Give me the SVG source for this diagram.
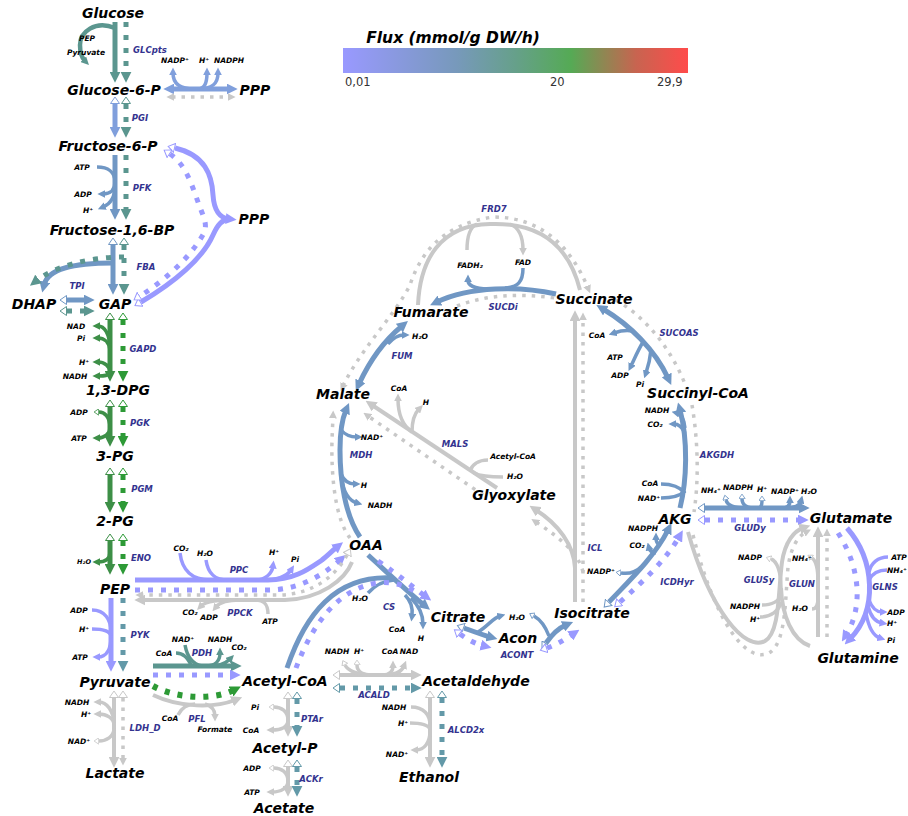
<svg xmlns="http://www.w3.org/2000/svg" width="908" height="816" viewBox="0 0 908 816">
<defs>
<linearGradient id="flux" x1="0" y1="0" x2="1" y2="0">
<stop offset="0" stop-color="#9999ff"/><stop offset="0.33" stop-color="#7799bb"/><stop offset="0.5" stop-color="#66a08a"/><stop offset="0.66" stop-color="#55aa55"/><stop offset="0.85" stop-color="#c86450"/><stop offset="1" stop-color="#ff4b4b"/>
</linearGradient>
<marker id="A-lav" viewBox="0 0 10 10" refX="3" refY="5" markerWidth="11" markerHeight="11" markerUnits="userSpaceOnUse" orient="auto-start-reverse"><path d="M0,0L10,5L0,10z" fill="#9999ff"/></marker>
<marker id="A-sb" viewBox="0 0 10 10" refX="3" refY="5" markerWidth="11" markerHeight="11" markerUnits="userSpaceOnUse" orient="auto-start-reverse"><path d="M0,0L10,5L0,10z" fill="#809fdc"/></marker>
<marker id="A-st" viewBox="0 0 10 10" refX="3" refY="5" markerWidth="11" markerHeight="11" markerUnits="userSpaceOnUse" orient="auto-start-reverse"><path d="M0,0L10,5L0,10z" fill="#7097c4"/></marker>
<marker id="A-te" viewBox="0 0 10 10" refX="3" refY="5" markerWidth="11" markerHeight="11" markerUnits="userSpaceOnUse" orient="auto-start-reverse"><path d="M0,0L10,5L0,10z" fill="#5b968f"/></marker>
<marker id="A-td" viewBox="0 0 10 10" refX="3" refY="5" markerWidth="11" markerHeight="11" markerUnits="userSpaceOnUse" orient="auto-start-reverse"><path d="M0,0L10,5L0,10z" fill="#6399a8"/></marker>
<marker id="A-gr" viewBox="0 0 10 10" refX="3" refY="5" markerWidth="11" markerHeight="11" markerUnits="userSpaceOnUse" orient="auto-start-reverse"><path d="M0,0L10,5L0,10z" fill="#3d8f47"/></marker>
<marker id="A-gd" viewBox="0 0 10 10" refX="3" refY="5" markerWidth="11" markerHeight="11" markerUnits="userSpaceOnUse" orient="auto-start-reverse"><path d="M0,0L10,5L0,10z" fill="#2d9a36"/></marker>
<marker id="A-gry" viewBox="0 0 10 10" refX="3" refY="5" markerWidth="11" markerHeight="11" markerUnits="userSpaceOnUse" orient="auto-start-reverse"><path d="M0,0L10,5L0,10z" fill="#c8c8c8"/></marker>
<marker id="a-lav" viewBox="0 0 10 10" refX="3" refY="5" markerWidth="8" markerHeight="8" markerUnits="userSpaceOnUse" orient="auto-start-reverse"><path d="M0,0L10,5L0,10z" fill="#9999ff"/></marker>
<marker id="a-sb" viewBox="0 0 10 10" refX="3" refY="5" markerWidth="8" markerHeight="8" markerUnits="userSpaceOnUse" orient="auto-start-reverse"><path d="M0,0L10,5L0,10z" fill="#809fdc"/></marker>
<marker id="a-st" viewBox="0 0 10 10" refX="3" refY="5" markerWidth="8" markerHeight="8" markerUnits="userSpaceOnUse" orient="auto-start-reverse"><path d="M0,0L10,5L0,10z" fill="#7097c4"/></marker>
<marker id="a-te" viewBox="0 0 10 10" refX="3" refY="5" markerWidth="8" markerHeight="8" markerUnits="userSpaceOnUse" orient="auto-start-reverse"><path d="M0,0L10,5L0,10z" fill="#5b968f"/></marker>
<marker id="a-gr" viewBox="0 0 10 10" refX="3" refY="5" markerWidth="8" markerHeight="8" markerUnits="userSpaceOnUse" orient="auto-start-reverse"><path d="M0,0L10,5L0,10z" fill="#3d8f47"/></marker>
<marker id="a-gry" viewBox="0 0 10 10" refX="3" refY="5" markerWidth="8" markerHeight="8" markerUnits="userSpaceOnUse" orient="auto-start-reverse"><path d="M0,0L10,5L0,10z" fill="#c8c8c8"/></marker>
<marker id="g-s" viewBox="0 0 10 10" refX="3" refY="5" markerWidth="8" markerHeight="8" markerUnits="userSpaceOnUse" orient="auto-start-reverse"><path d="M0,0L10,5L0,10z" fill="#c8c8c8"/></marker>
<marker id="H-lav" viewBox="0 0 10 10" refX="0" refY="5" markerWidth="10" markerHeight="10" markerUnits="userSpaceOnUse" orient="auto-start-reverse"><path d="M0.5,0.5L7,5L0.5,9.5z" fill="#fff" stroke="#9999ff" stroke-width="1"/></marker>
<marker id="H-sb" viewBox="0 0 10 10" refX="0" refY="5" markerWidth="10" markerHeight="10" markerUnits="userSpaceOnUse" orient="auto-start-reverse"><path d="M0.5,0.5L7,5L0.5,9.5z" fill="#fff" stroke="#809fdc" stroke-width="1"/></marker>
<marker id="H-st" viewBox="0 0 10 10" refX="0" refY="5" markerWidth="10" markerHeight="10" markerUnits="userSpaceOnUse" orient="auto-start-reverse"><path d="M0.5,0.5L7,5L0.5,9.5z" fill="#fff" stroke="#7097c4" stroke-width="1"/></marker>
<marker id="H-te" viewBox="0 0 10 10" refX="0" refY="5" markerWidth="10" markerHeight="10" markerUnits="userSpaceOnUse" orient="auto-start-reverse"><path d="M0.5,0.5L7,5L0.5,9.5z" fill="#fff" stroke="#5b968f" stroke-width="1"/></marker>
<marker id="H-td" viewBox="0 0 10 10" refX="0" refY="5" markerWidth="10" markerHeight="10" markerUnits="userSpaceOnUse" orient="auto-start-reverse"><path d="M0.5,0.5L7,5L0.5,9.5z" fill="#fff" stroke="#6399a8" stroke-width="1"/></marker>
<marker id="H-gr" viewBox="0 0 10 10" refX="0" refY="5" markerWidth="10" markerHeight="10" markerUnits="userSpaceOnUse" orient="auto-start-reverse"><path d="M0.5,0.5L7,5L0.5,9.5z" fill="#fff" stroke="#3d8f47" stroke-width="1"/></marker>
<marker id="H-gd" viewBox="0 0 10 10" refX="0" refY="5" markerWidth="10" markerHeight="10" markerUnits="userSpaceOnUse" orient="auto-start-reverse"><path d="M0.5,0.5L7,5L0.5,9.5z" fill="#fff" stroke="#2d9a36" stroke-width="1"/></marker>
<marker id="H-gry" viewBox="0 0 10 10" refX="0" refY="5" markerWidth="10" markerHeight="10" markerUnits="userSpaceOnUse" orient="auto-start-reverse"><path d="M0.5,0.5L7,5L0.5,9.5z" fill="#fff" stroke="#c8c8c8" stroke-width="1"/></marker>
<marker id="h-gr" viewBox="0 0 10 10" refX="0" refY="5" markerWidth="7" markerHeight="7" markerUnits="userSpaceOnUse" orient="auto-start-reverse"><path d="M0.5,0.5L7,5L0.5,9.5z" fill="#fff" stroke="#3d8f47" stroke-width="1.2"/></marker>
<marker id="h-gry" viewBox="0 0 10 10" refX="0" refY="5" markerWidth="7" markerHeight="7" markerUnits="userSpaceOnUse" orient="auto-start-reverse"><path d="M0.5,0.5L7,5L0.5,9.5z" fill="#fff" stroke="#c8c8c8" stroke-width="1.2"/></marker>
<marker id="h-st" viewBox="0 0 10 10" refX="0" refY="5" markerWidth="7" markerHeight="7" markerUnits="userSpaceOnUse" orient="auto-start-reverse"><path d="M0.5,0.5L7,5L0.5,9.5z" fill="#fff" stroke="#7097c4" stroke-width="1.2"/></marker>
</defs>
<style>
.ln,.dt,.cf,.lg,.dg,.cg{fill:none}
.ln{stroke-width:5}
.dt{stroke-width:5;stroke-dasharray:5 8}
.cf{stroke-width:3.5}
.lg{stroke:#c8c8c8;stroke-width:4}
.cg{stroke:#c8c8c8;stroke-width:3.5}
.dg{stroke:#c8c8c8;stroke-width:3.5;stroke-dasharray:3.5 6}
.lav{stroke:#9999ff}.sb{stroke:#809fdc}.st{stroke:#7097c4}.te{stroke:#5b968f}.td{stroke:#6399a8}.gr{stroke:#3d8f47}.gd{stroke:#2d9a36}
text{font-family:"DejaVu Sans",Verdana,sans-serif;font-weight:bold;font-style:italic;text-anchor:middle;fill:#000}
.m{font-size:14px}
.c{font-size:7.5px}
.r{font-size:8.5px;fill:#33338f}
.lt{font-size:15.5px}
.ln2{font-size:11.5px;font-weight:normal;font-style:normal;text-anchor:start;fill:#333}
</style>
<rect width="908" height="816" fill="#fff"/>

<g id="connectors">
<!-- GLCpts -->
<path class="ln te" d="M115,22V75" marker-end="url(#A-te)"/>
<path class="dt te" d="M126,22V75" marker-end="url(#A-te)"/>
<path class="cf te" style="stroke-width:4.5" d="M115,28C95,20 80,32 80,45C80,53 82,58 85,61" marker-end="url(#a-te)"/>
<!-- G6PDH / PPP top -->
<path class="ln sb" d="M171,89H230" marker-start="url(#A-sb)" marker-end="url(#A-sb)"/>
<path class="cf sb" d="M194,89C180,89 173,84 173,73" marker-end="url(#a-sb)"/>
<path class="cf sb" d="M198,89C204,89 207,84 207,73" marker-end="url(#a-sb)"/>
<path class="cf sb" d="M198,89C212,89 218,84 218,73" marker-end="url(#a-sb)"/>
<path class="dg" d="M172,97H230" marker-start="url(#g-s)" marker-end="url(#g-s)"/>
<!-- PGI -->
<path class="ln sb" d="M115,104V130" marker-start="url(#H-sb)" marker-end="url(#A-sb)"/>
<path class="dt te" d="M126,104V130" marker-start="url(#H-te)" marker-end="url(#A-te)"/>
<!-- PFK -->
<path class="ln st" d="M115,155V212" marker-end="url(#A-st)"/>
<path class="dt te" d="M126,155V212" marker-end="url(#A-te)"/>
<path class="cf st" d="M97,167C108,167 115,172 115,182"/>
<path class="cf st" d="M115,182C115,190 110,194 103,194" marker-end="url(#a-st)"/>
<path class="cf st" d="M115,186C115,198 110,204 103,207" marker-end="url(#a-st)"/>
<!-- FBA / TPI -->
<path class="ln st" d="M113,245V287" marker-start="url(#H-st)" marker-end="url(#A-st)"/>
<path class="dt te" d="M124,245V287" marker-start="url(#H-te)" marker-end="url(#A-te)"/>
<path class="ln st" d="M113,263C75,263 48,268 44,285" marker-end="url(#A-st)"/>
<path class="dt te" d="M124,257C90,257 55,266 36,281" marker-end="url(#A-te)"/>
<path class="ln st" d="M67,300H87" marker-start="url(#H-st)" marker-end="url(#A-st)"/>
<path class="dt te" d="M67,311H87" marker-start="url(#H-te)" marker-end="url(#A-te)"/>
<!-- F6P / GAP to PPP -->
<path class="ln lav" d="M175,148C205,155 212,175 213,195C214,210 220,218 229,219" marker-start="url(#H-lav)" marker-end="url(#A-lav)"/>
<path class="ln lav" d="M141,302C175,282 203,258 213,235C218,224 222,220 229,219" marker-start="url(#H-lav)"/>
<path class="dt lav" d="M170,154C188,166 193,190 201,210C205,220 207,226 204,233C190,258 165,280 140,296" marker-start="url(#H-lav)" marker-end="url(#H-lav)"/>
<!-- GAPD -->
<path class="ln gr" d="M110,320V374" marker-start="url(#H-gr)" marker-end="url(#A-gr)"/>
<path class="dt gd" d="M123,320V374" marker-start="url(#H-gd)" marker-end="url(#A-gd)"/>
<path class="cf gr" d="M110,350C110,333 104,326 98,326" marker-end="url(#a-gr)"/>
<path class="cf gr" d="M110,350C109,342 104,338 98,338" marker-end="url(#a-gr)"/>
<path class="cf gr" d="M110,372C110,366 104,362 98,362" marker-end="url(#a-gr)"/>
<path class="cf gr" d="M110,372C109,376 104,376 98,376" marker-end="url(#a-gr)"/>
<!-- PGK -->
<path class="ln gr" d="M110,407V439" marker-start="url(#H-gr)" marker-end="url(#A-gr)"/>
<path class="dt gd" d="M123,407V439" marker-start="url(#H-gd)" marker-end="url(#A-gd)"/>
<path class="cf gr" d="M110,428C110,416 104,412 99,412" marker-end="url(#h-gr)"/>
<path class="cf gr" d="M110,428C110,434 104,438 98,438" marker-end="url(#a-gr)"/>
<!-- PGM -->
<path class="ln gr" d="M110,475V505" marker-start="url(#H-gr)" marker-end="url(#A-gr)"/>
<path class="dt gd" d="M123,475V505" marker-start="url(#H-gd)" marker-end="url(#A-gd)"/>
<!-- ENO -->
<path class="ln gr" d="M110,541V567" marker-start="url(#H-gr)" marker-end="url(#A-gr)"/>
<path class="dt gd" d="M123,541V567" marker-start="url(#H-gd)" marker-end="url(#A-gd)"/>
<path class="cf gr" d="M110,552C110,560 104,562 98,562" marker-end="url(#a-gr)"/>
<!-- PYK -->
<path class="ln lav" d="M111,598V664" marker-end="url(#A-lav)"/>
<path class="dt td" d="M123,598V664" marker-end="url(#A-td)"/>
<path class="cf lav" d="M92,610C105,610 111,620 111,632"/>
<path class="cf lav" d="M92,629C103,629 110,631 111,636"/>
<path class="cf lav" d="M111,636C111,650 106,657 98,657" marker-end="url(#a-lav)"/>
<!-- LDH_D -->
<path class="lg" d="M114,698V760" marker-start="url(#H-gry)" marker-end="url(#A-gry)"/>
<path class="dg" d="M123,698V760" marker-start="url(#H-gry)" marker-end="url(#g-s)"/>
<path class="cg" d="M114,725C114,710 106,702 99,702" marker-end="url(#a-gry)"/>
<path class="cg" d="M114,725C114,718 106,714 99,714" marker-end="url(#a-gry)"/>
<path class="cg" d="M114,728C114,737 106,741 99,741" marker-end="url(#h-gry)"/>
<!-- PPC -->
<path class="ln lav" d="M135,580H268C295,580 310,568 322,560C328,555 332,551 337,547" marker-end="url(#A-lav)"/>
<path class="cf lav" d="M180,553C182,570 192,580 210,580"/>
<path class="cf lav" d="M206,560C208,574 215,580 228,580"/>
<path class="cf lav" d="M255,580C265,580 272,574 273,566" marker-end="url(#a-lav)"/>
<path class="cf lav" d="M262,580C278,580 287,576 291,570" marker-end="url(#a-lav)"/>
<path class="dt lav" d="M135,590H268C298,590 322,576 340,560" marker-end="url(#A-lav)"/>
<!-- PPCK -->
<path class="lg" d="M352,562C345,580 320,599 285,600H142" marker-end="url(#A-gry)"/>
<path class="dg" d="M347,555C337,574 315,594 280,595H141" marker-start="url(#H-gry)" marker-end="url(#g-s)"/>
<path class="cg" d="M240,600C218,600 206,601 201,606" marker-end="url(#a-gry)"/>
<path class="cg" d="M240,600C228,600 220,602 216,607" marker-end="url(#a-gry)"/>
<path class="cg" d="M268,614C268,605 265,600 255,600"/>
<!-- PDH -->
<path class="ln te" d="M153,666H234" marker-end="url(#A-te)"/>
<path class="cf te" d="M176,653C185,653 188,660 192,666"/>
<path class="cf te" d="M185,645C187,656 192,664 202,666"/>
<path class="cf te" d="M206,666C216,666 220,660 220,653" marker-end="url(#a-te)"/>
<path class="cf te" d="M210,666C222,666 227,662 230,659" marker-end="url(#a-te)"/>
<path class="dt lav" d="M153,675H233" marker-end="url(#A-lav)"/>
<!-- PFL -->
<path class="dt gd" style="stroke-width:6" d="M153,686C175,698 212,701 234,690" marker-end="url(#A-gd)"/>
<path class="lg" d="M153,695C180,708 215,708 235,700" marker-end="url(#A-gry)"/>
<path class="cg" d="M178,715C182,707 188,704 195,704"/>
<path class="cg" d="M205,704C212,706 215,711 215,716" marker-end="url(#a-gry)"/>
<!-- PTAr -->
<path class="lg" d="M288,699V729" marker-start="url(#H-gry)" marker-end="url(#A-gry)"/>
<path class="dt td" d="M297,699V729" marker-start="url(#H-td)" marker-end="url(#A-td)"/>
<path class="cg" d="M288,720C288,711 281,707 274,707" marker-end="url(#h-gry)"/>
<path class="cg" d="M288,720C288,727 281,730 272,730" marker-end="url(#a-gry)"/>
<!-- ACKr -->
<path class="lg" d="M288,767V789" marker-start="url(#H-gry)" marker-end="url(#A-gry)"/>
<path class="dt td" d="M297,767V789" marker-start="url(#H-td)" marker-end="url(#A-td)"/>
<path class="cg" d="M288,781C288,772 281,768 274,768" marker-end="url(#h-gry)"/>
<path class="cg" d="M288,781C288,788 281,792 272,792" marker-end="url(#a-gry)"/>
<!-- ACALD -->
<path class="lg" d="M340,675H414" marker-start="url(#H-gry)" marker-end="url(#A-gry)"/>
<path class="dt td" d="M340,688H414" marker-start="url(#H-td)" marker-end="url(#A-td)"/>
<path class="cg" d="M372,675C358,675 348,671 345,665" marker-end="url(#h-gry)"/>
<path class="cg" d="M372,675C362,675 357,671 357,665" marker-end="url(#h-gry)"/>
<path class="cg" d="M383,675C390,675 393,671 393,666" marker-end="url(#a-gry)"/>
<path class="cg" d="M383,675C396,675 402,671 404,666" marker-end="url(#a-gry)"/>
<!-- ALCD2x -->
<path class="lg" d="M430,698V760" marker-start="url(#H-gry)" marker-end="url(#A-gry)"/>
<path class="dt td" d="M442,698V760" marker-start="url(#H-td)" marker-end="url(#A-td)"/>
<path class="cg" d="M411,707C424,707 430,715 430,725"/>
<path class="cg" d="M410,723C420,723 428,725 430,729"/>
<path class="cg" d="M430,731C430,743 424,750 416,750" marker-end="url(#a-gry)"/>
<!-- CS -->
<path class="ln st" d="M368,555C390,575 408,592 424,605" marker-end="url(#A-st)"/>
<path class="ln st" d="M287,668C305,615 335,575 392,578"/>
<path class="cf st" d="M368,593C375,585 383,581 394,580"/>
<path class="cf st" d="M405,595C411,601 413,608 412,616" marker-end="url(#a-st)"/>
<path class="cf st" d="M411,598C419,606 423,614 423,624" marker-end="url(#a-st)"/>
<path class="dt lav" d="M378,561C400,576 414,588 425,596" marker-end="url(#A-lav)"/>
<path class="dt lav" d="M296,668C312,625 338,588 378,583C395,581 408,587 418,593"/>
<!-- ACONT -->
<path class="ln st" d="M464,628C475,632 483,635 490,637" marker-start="url(#H-st)" marker-end="url(#A-st)"/>
<path class="cf st" d="M478,632C488,626 493,618 500,616" marker-end="url(#a-st)"/>
<path class="ln st" d="M546,643C553,633 559,628 566,625" marker-start="url(#H-st)" marker-end="url(#A-st)"/>
<path class="cf st" d="M534,616C541,620 546,628 549,636" marker-start="url(#h-st)"/>
<path class="dt lav" d="M460,634C468,640 476,644 484,646" marker-start="url(#H-lav)" marker-end="url(#A-lav)"/>
<path class="dt lav" d="M547,648C556,645 564,640 573,634" marker-start="url(#H-lav)" marker-end="url(#A-lav)"/>
<!-- ICL -->
<path class="lg" d="M575,602V318" marker-end="url(#A-gry)"/>
<path class="dg" d="M583,602V318" marker-end="url(#g-s)"/>
<path class="lg" d="M575,568C574,545 558,524 536,510" marker-end="url(#A-gry)"/>
<path class="dg" d="M583,572C578,552 560,538 536,522" marker-end="url(#g-s)"/>
<!-- MALS -->
<path class="lg" d="M497,488L372,405" marker-end="url(#A-gry)"/>
<path class="cg" d="M488,460C478,460 472,465 470,471"/>
<path class="cg" d="M503,477C490,477 480,476 474,473"/>
<path class="cg" d="M412,432C402,425 398,415 398,399" marker-end="url(#a-gry)"/>
<path class="cg" d="M412,432C412,420 415,413 419,409" marker-end="url(#a-gry)"/>
<path class="dg" d="M483,495L368,416" marker-end="url(#g-s)"/>
<!-- MDH -->
<path class="ln st" d="M360,537C345,515 340,480 340,450C340,430 343,417 346,410" marker-end="url(#A-st)"/>
<path class="cf st" d="M341,430C346,436 351,437 357,437" marker-end="url(#a-st)"/>
<path class="cf st" d="M341,474C344,481 349,484 355,484" marker-end="url(#a-st)"/>
<path class="cf st" d="M341,478C344,494 350,501 357,503" marker-end="url(#a-st)"/>
<path class="dg" d="M350,538C336,520 331,480 332,440L333,416" marker-end="url(#g-s)"/>
<!-- FUM -->
<path class="ln st" d="M359,384C370,360 385,340 402,326" marker-start="url(#A-st)" marker-end="url(#A-st)"/>
<path class="cf st" d="M388,344C393,338 398,335 404,335" marker-end="url(#a-st)"/>
<path class="dg" d="M343,386C360,350 395,315 410,285C420,255 440,225 493,217C540,217 570,245 588,288" marker-start="url(#g-s)" marker-end="url(#g-s)"/>
<!-- FRD7 -->
<path class="lg" d="M418,305C420,260 440,225 490,224C545,222 570,250 580,290"/>
<path class="cg" d="M477,224C468,228 467,240 467,250"/>
<path class="cg" d="M510,224C520,228 523,238 523,250" marker-end="url(#a-gry)"/>
<!-- SUCDi -->
<path class="ln st" d="M556,294C520,286 470,286 437,302" marker-end="url(#A-st)"/>
<path class="cf st" d="M488,289C474,289 468,285 468,280" marker-end="url(#a-st)"/>
<path class="cf st" d="M523,268C523,282 518,287 505,288"/>
<path class="dg" d="M457,306C485,295 520,293 555,298"/>
<!-- SUCOAS -->
<path class="ln st" d="M603,309C630,325 655,350 668,378" marker-start="url(#A-st)" marker-end="url(#A-st)"/>
<path class="cf st" d="M632,331C626,330 620,331 614,333" marker-end="url(#a-st)"/>
<path class="cf st" d="M643,342C637,352 634,360 631,366" marker-end="url(#a-st)"/>
<path class="cf st" d="M651,350C650,360 648,367 646,373" marker-end="url(#a-st)"/>
<path class="dg" d="M616,300C650,320 675,355 688,392"/>
<!-- AKGDH -->
<path class="ln st" d="M680,508C687,480 688,440 680,410" marker-end="url(#A-st)"/>
<path class="cf st" d="M685,428C684,419 681,414 677,413" marker-end="url(#a-st)"/>
<path class="cf st" d="M685,433C682,427 678,424 674,424" marker-end="url(#a-st)"/>
<path class="cf st" d="M661,484C672,484 680,487 685,493"/>
<path class="cf st" d="M661,498C672,498 680,496 685,491"/>
<path class="dg" d="M692,405C698,440 699,480 694,512"/>
<!-- ICDHyr -->
<path class="ln st" d="M609,602C630,580 655,556 668,530" marker-start="url(#H-st)" marker-end="url(#A-st)"/>
<path class="cf st" d="M641,567C635,573 628,574 621,573" marker-end="url(#h-st)"/>
<path class="cf st" d="M656,553Q650,552 649,548" marker-end="url(#a-st)"/>
<path class="cf st" d="M660,546Q656,543 656,538" marker-end="url(#a-st)"/>
<path class="dt lav" d="M620,602C645,580 667,558 679,537" marker-start="url(#H-lav)" marker-end="url(#A-lav)"/>
<!-- GLUDy -->
<path class="ln st" d="M705,508H802" marker-start="url(#H-st)" marker-end="url(#A-st)"/>
<path class="dt lav" d="M705,520H801" marker-start="url(#H-lav)" marker-end="url(#A-lav)"/>
<path class="cf st" d="M745,508C732,508 727,504 726,500" marker-end="url(#h-st)"/>
<path class="cf st" d="M752,508C746,508 742,504 742,499" marker-end="url(#h-st)"/>
<path class="cf st" d="M758,508C761,508 762,505 762,501" marker-end="url(#h-st)"/>
<path class="cf st" d="M782,508C788,508 790,505 790,501" marker-end="url(#a-st)"/>
<path class="cf st" d="M786,508C797,508 800,505 801,501" marker-end="url(#a-st)"/>
<!-- GLUSy -->
<path class="lg" d="M688,532C710,610 745,652 765,641C780,632 778,592 782,562C785,542 794,531 803,528" marker-end="url(#A-gry)"/>
<path class="lg" d="M810,646C792,640 782,615 781,588"/>
<path class="cg" d="M781,588C781,572 777,561 771,559" marker-end="url(#h-gry)"/>
<path class="cg" d="M762,605C772,605 779,601 781,595"/>
<path class="cg" d="M760,617C771,617 779,611 781,602"/>
<path class="dg" d="M693,535C715,622 746,664 769,653C786,643 785,602 788,567C791,547 798,536 806,532" marker-end="url(#g-s)"/>
<!-- GLUN -->
<path class="lg" d="M818,637V534" marker-end="url(#A-gry)"/>
<path class="dg" d="M827,637V534" marker-end="url(#g-s)"/>
<path class="cg" d="M818,582C818,566 815,560 812,558" marker-end="url(#h-gry)"/>
<path class="cg" d="M812,609C816,609 818,605 818,598"/>
<!-- GLNS -->
<path class="ln lav" d="M847,528C875,560 878,610 850,639" marker-end="url(#A-lav)"/>
<path class="cf lav" d="M888,557C878,557 871,563 869,572"/>
<path class="cf lav" d="M887,570C878,570 872,574 869,580"/>
<path class="cf lav" d="M869,600C872,608 877,612 882,612" marker-end="url(#a-lav)"/>
<path class="cf lav" d="M868,606C871,618 876,622 882,623" marker-end="url(#a-lav)"/>
<path class="cf lav" d="M866,613C869,630 874,636 880,638" marker-end="url(#a-lav)"/>
<path class="dt lav" d="M838,533C862,570 862,610 846,635" marker-end="url(#A-lav)"/>
</g>

<g id="reaction-labels">
<text class="r" x="150" y="53">GLCpts</text>
<text class="r" x="140" y="121">PGI</text>
<text class="r" x="142" y="191">PFK</text>
<text class="r" x="146" y="270">FBA</text>
<text class="r" x="77" y="289">TPI</text>
<text class="r" x="143" y="352">GAPD</text>
<text class="r" x="140" y="426">PGK</text>
<text class="r" x="142" y="492">PGM</text>
<text class="r" x="141" y="561">ENO</text>
<text class="r" x="140" y="638">PYK</text>
<text class="r" x="145" y="731">LDH_D</text>
<text class="r" x="202" y="656">PDH</text>
<text class="r" x="197" y="722">PFL</text>
<text class="r" x="239" y="573">PPC</text>
<text class="r" x="240" y="616">PPCK</text>
<text class="r" x="312" y="722">PTAr</text>
<text class="r" x="311" y="782">ACKr</text>
<text class="r" x="374" y="698">ACALD</text>
<text class="r" x="466" y="733">ALCD2x</text>
<text class="r" x="389" y="610">CS</text>
<text class="r" x="517" y="658">ACONT</text>
<text class="r" x="595" y="551">ICL</text>
<text class="r" x="677" y="585">ICDHyr</text>
<text class="r" x="455" y="447">MALS</text>
<text class="r" x="361" y="458">MDH</text>
<text class="r" x="402" y="359">FUM</text>
<text class="r" x="503" y="310">SUCDi</text>
<text class="r" x="494" y="212">FRD7</text>
<text class="r" x="679" y="336">SUCOAS</text>
<text class="r" x="717" y="458">AKGDH</text>
<text class="r" x="750" y="531">GLUDy</text>
<text class="r" x="759" y="583">GLUSy</text>
<text class="r" x="802" y="587">GLUN</text>
<text class="r" x="885" y="590">GLNS</text>
</g>

<g id="cofactors">
<text class="c" x="87" y="41">PEP</text>
<text class="c" x="86" y="55">Pyruvate</text>
<text class="c" x="175" y="63">NADP⁺</text>
<text class="c" x="204" y="63">H⁺</text>
<text class="c" x="229" y="63">NADPH</text>
<text class="c" x="82" y="170">ATP</text>
<text class="c" x="83" y="197">ADP</text>
<text class="c" x="88" y="213">H⁺</text>
<text class="c" x="76" y="329">NAD</text>
<text class="c" x="81" y="341">Pi</text>
<text class="c" x="84" y="365">H⁺</text>
<text class="c" x="75" y="379">NADH</text>
<text class="c" x="79" y="415">ADP</text>
<text class="c" x="79" y="441">ATP</text>
<text class="c" x="84" y="564" style="font-size:6.5px">H₂O</text>
<text class="c" x="79" y="613">ADP</text>
<text class="c" x="84" y="632">H⁺</text>
<text class="c" x="80" y="660">ATP</text>
<text class="c" x="77" y="705">NADH</text>
<text class="c" x="86" y="717">H⁺</text>
<text class="c" x="79" y="744">NAD⁺</text>
<text class="c" x="181" y="551">CO₂</text>
<text class="c" x="205" y="556">H₂O</text>
<text class="c" x="274" y="555">H⁺</text>
<text class="c" x="295" y="562">Pi</text>
<text class="c" x="190" y="615">CO₂</text>
<text class="c" x="209" y="620">ADP</text>
<text class="c" x="270" y="624">ATP</text>
<text class="c" x="164" y="656">CoA</text>
<text class="c" x="183" y="642">NAD⁺</text>
<text class="c" x="220" y="642">NADH</text>
<text class="c" x="239" y="650">CO₂</text>
<text class="c" x="170" y="721">CoA</text>
<text class="c" x="215" y="732">Formate</text>
<text class="c" x="255" y="710">Pi</text>
<text class="c" x="251" y="733">CoA</text>
<text class="c" x="252" y="771">ADP</text>
<text class="c" x="252" y="795">ATP</text>
<text class="c" x="337" y="654">NADH</text>
<text class="c" x="359" y="654">H⁺</text>
<text class="c" x="390" y="654">CoA</text>
<text class="c" x="409" y="654">NAD</text>
<text class="c" x="394" y="710">NADH</text>
<text class="c" x="403" y="726">H⁺</text>
<text class="c" x="397" y="757">NAD⁺</text>
<text class="c" x="360" y="601">H₂O</text>
<text class="c" x="397" y="632">CoA</text>
<text class="c" x="421" y="641">H</text>
<text class="c" x="517" y="620">H₂O</text>
<text class="c" x="513" y="459">Acetyl-CoA</text>
<text class="c" x="515" y="479">H₂O</text>
<text class="c" x="399" y="391">CoA</text>
<text class="c" x="426" y="405">H</text>
<text class="c" x="372" y="440">NAD⁺</text>
<text class="c" x="364" y="488">H</text>
<text class="c" x="380" y="508">NADH</text>
<text class="c" x="420" y="339">H₂O</text>
<text class="c" x="470" y="268">FADH₂</text>
<text class="c" x="523" y="265">FAD</text>
<text class="c" x="597" y="338">CoA</text>
<text class="c" x="615" y="360">ATP</text>
<text class="c" x="620" y="378">ADP</text>
<text class="c" x="640" y="387">Pi</text>
<text class="c" x="657" y="413">NADH</text>
<text class="c" x="655" y="427">CO₂</text>
<text class="c" x="650" y="486">CoA</text>
<text class="c" x="649" y="501">NAD⁺</text>
<text class="c" x="601" y="574">NADP⁺</text>
<text class="c" x="637" y="548">CO₂</text>
<text class="c" x="643" y="531">NADPH</text>
<text class="c" x="711" y="493">NH₄⁺</text>
<text class="c" x="738" y="490">NADPH</text>
<text class="c" x="762" y="492">H⁺</text>
<text class="c" x="785" y="494">NADP⁺</text>
<text class="c" x="809" y="494">H₂O</text>
<text class="c" x="750" y="560">NADP</text>
<text class="c" x="745" y="609">NADPH</text>
<text class="c" x="755" y="622">H⁺</text>
<text class="c" x="802" y="561">NH₄⁺</text>
<text class="c" x="800" y="611">H₂O</text>
<text class="c" x="899" y="560">ATP</text>
<text class="c" x="897" y="573">NH₄⁺</text>
<text class="c" x="896" y="615">ADP</text>
<text class="c" x="892" y="626">H⁺</text>
<text class="c" x="891" y="643">Pi</text>
</g>

<g id="glucose"><text class="m" x="113" y="18">Glucose</text></g>
<g id="g6p"><text class="m" x="114" y="95">Glucose-6-P</text></g>
<g id="ppp-top"><text class="m" x="255" y="95">PPP</text></g>
<g id="f6p"><text class="m" x="108" y="151">Fructose-6-P</text></g>
<g id="fdp"><text class="m" x="112" y="235">Fructose-1,6-BP</text></g>
<g id="ppp-mid"><text class="m" x="254" y="224">PPP</text></g>
<g id="dhap"><text class="m" x="34" y="309">DHAP</text></g>
<g id="gap"><text class="m" x="115" y="309">GAP</text></g>
<g id="dpg13"><text class="m" x="118" y="395">1,3-DPG</text></g>
<g id="pg3"><text class="m" x="115" y="461">3-PG</text></g>
<g id="pg2"><text class="m" x="115" y="526">2-PG</text></g>
<g id="pep"><text class="m" x="115" y="594">PEP</text></g>
<g id="pyruvate"><text class="m" x="115" y="687">Pyruvate</text></g>
<g id="lactate"><text class="m" x="115" y="778">Lactate</text></g>
<g id="accoa"><text class="m" x="285" y="686">Acetyl-CoA</text></g>
<g id="actp"><text class="m" x="285" y="753">Acetyl-P</text></g>
<g id="acetate"><text class="m" x="284" y="813">Acetate</text></g>
<g id="acald"><text class="m" x="476" y="686">Acetaldehyde</text></g>
<g id="ethanol"><text class="m" x="429" y="782">Ethanol</text></g>
<g id="oaa"><text class="m" x="366" y="550">OAA</text></g>
<g id="citrate"><text class="m" x="458" y="622">Citrate</text></g>
<g id="acon"><text class="m" x="518" y="643">Acon</text></g>
<g id="isocitrate"><text class="m" x="592" y="618">Isocitrate</text></g>
<g id="akg"><text class="m" x="675" y="524">AKG</text></g>
<g id="glutamate"><text class="m" x="851" y="523">Glutamate</text></g>
<g id="glutamine"><text class="m" x="858" y="663">Glutamine</text></g>
<g id="succoa"><text class="m" x="698" y="398">Succinyl-CoA</text></g>
<g id="succinate"><text class="m" x="594" y="304">Succinate</text></g>
<g id="fumarate"><text class="m" x="431" y="317">Fumarate</text></g>
<g id="malate"><text class="m" x="343" y="399">Malate</text></g>
<g id="glyoxylate"><text class="m" x="514" y="500">Glyoxylate</text></g>

<g id="legend">
<text class="lt" x="453" y="43">Flux (mmol/g DW/h)</text>
<rect x="343" y="48" width="345" height="25" fill="url(#flux)"/>
<text class="ln2" x="345" y="86">0,01</text>
<text class="ln2" x="550" y="86">20</text>
<text class="ln2" x="657" y="86">29,9</text>
</g>
</svg>
